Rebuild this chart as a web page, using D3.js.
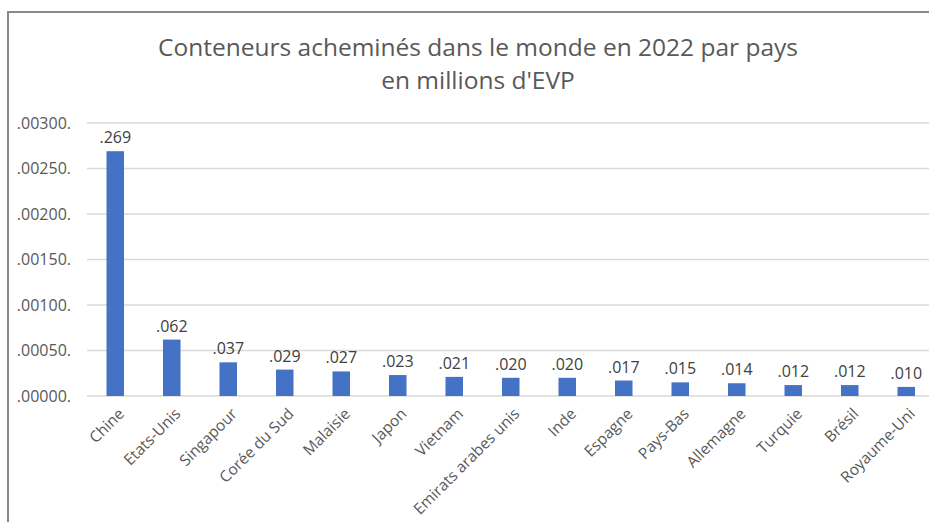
<!DOCTYPE html>
<html><head><meta charset="utf-8">
<script src="https://cdn.jsdelivr.net/npm/d3@7"></script>
<style>body{margin:0;background:#fff;overflow:hidden}</style>
</head><body>
<svg id="c" width="929" height="522"></svg>
<script>
const categories = ["Chine","Etats-Unis","Singapour","Corée du Sud","Malaisie","Japon","Vietnam","Emirats arabes unis","Inde","Espagne","Pays-Bas","Allemagne","Turquie","Brésil","Royaume-Uni"];
const values = [0.00269,0.00062,0.00037,0.00029,0.00027,0.00023,0.00021,0.00020,0.00020,0.00017,0.00015,0.00014,0.00012,0.00012,0.00010];
const dataLabels = [".269",".062",".037",".029",".027",".023",".021",".020",".020",".017",".015",".014",".012",".012",".010"];
const tickValues = [0,0.0005,0.001,0.0015,0.002,0.0025,0.003];
const tickLabels = [".00000.",".00050.",".00100.",".00150.",".00200.",".00250.",".00300."];
const titleLines = ["Conteneurs acheminés dans le monde en 2022 par pays","en millions d'EVP"];

const svg = d3.select("#c");
const font = "'Open Sans', 'Noto Sans', sans-serif";
const textCol = "#595959";

// frame
svg.append("path").attr("d","M8,522 V12 H929").attr("fill","none").attr("stroke","#888").attr("stroke-width",2);

const x = d3.scaleBand().domain(categories).range([87, 934.5]).paddingInner(0.69).paddingOuter(0.345);
const y = d3.scaleLinear().domain([0,0.003]).range([396,123]);

// gridlines
svg.append("g").selectAll("line").data(tickValues).join("line")
  .attr("x1",87).attr("x2",929).attr("y1",d=>y(d)).attr("y2",d=>y(d))
  .attr("stroke","#d9d9d9").attr("stroke-width",1.3);

// y labels
svg.append("g").selectAll("text").data(tickValues).join("text")
  .attr("x",71).attr("y",d=>y(d)).attr("dy","0.35em").attr("text-anchor","end")
  .attr("font-family",font).attr("font-size",16).attr("fill",textCol)
  .text((d,i)=>tickLabels[i]);

// bars
svg.append("g").selectAll("rect").data(values).join("rect")
  .attr("x",(d,i)=>x(categories[i])).attr("width",x.bandwidth())
  .attr("y",d=>y(d)).attr("height",d=>y(0)-y(d))
  .attr("fill","#4472c4");

// data labels
svg.append("g").selectAll("text").data(values).join("text")
  .attr("x",(d,i)=>x(categories[i])+x.bandwidth()/2).attr("y",d=>y(d)-8)
  .attr("text-anchor","middle").attr("font-family",font).attr("font-size",16).attr("fill","#404040")
  .text((d,i)=>dataLabels[i]);

// x labels
svg.append("g").selectAll("text").data(categories).join("text")
  .attr("transform",d=>`translate(${x(d)+x.bandwidth()/2+6},${y(0)+15}) rotate(-45)`)
  .attr("text-anchor","end").attr("dy","0.35em")
  .attr("font-family",font).attr("font-size",15.5).attr("fill",textCol)
  .text(d=>d);

// title
svg.append("g").selectAll("text").data(titleLines).join("text")
  .attr("x",478).attr("y",(d,i)=>56+i*33).attr("text-anchor","middle")
  .attr("font-family",font).attr("font-size",24.5).attr("fill",textCol)
  .text(d=>d);
</script>
</body></html>
